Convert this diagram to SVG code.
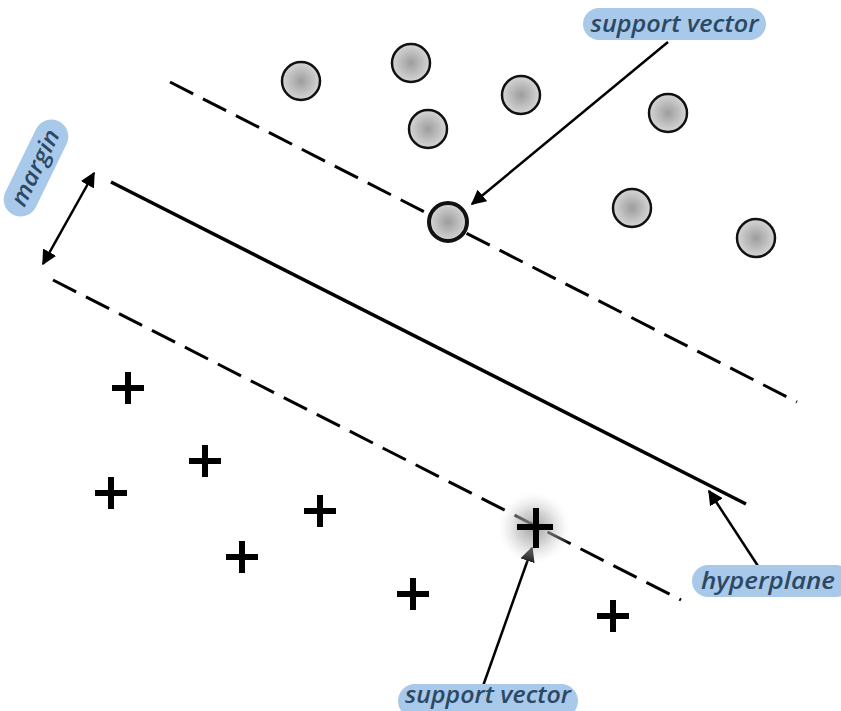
<svg xmlns="http://www.w3.org/2000/svg" width="841" height="711" viewBox="0 0 841 711">
<style>
.line{stroke:#000;stroke-width:3.5;fill:none;stroke-linecap:butt}
.dash{stroke:#000;stroke-width:3;fill:none;stroke-dasharray:26 11}
.pt{fill:url(#g);stroke:#111;stroke-width:2.5}
.plus{stroke:#000;stroke-width:6;fill:none}
.arr{stroke:#000;stroke-width:2.5;fill:none}
.pill{fill:#a9c9ea}
.lbl{font-family:"Open Sans","Liberation Sans",sans-serif;font-style:italic;font-weight:600;font-size:23px;fill:#2c4863}
</style>
<defs>
<radialGradient id="g" cx="0.5" cy="0.5" r="0.5">
<stop offset="0" stop-color="#9d9d9d"/>
<stop offset="1" stop-color="#d6d6d6"/>
</radialGradient>
<radialGradient id="glow" cx="0.5" cy="0.5" r="0.5">
<stop offset="0" stop-color="#8a8a8a" stop-opacity="0.8"/>
<stop offset="0.45" stop-color="#b0b0b0" stop-opacity="0.55"/>
<stop offset="0.75" stop-color="#d8d8d8" stop-opacity="0.3"/>
<stop offset="1" stop-color="#ffffff" stop-opacity="0"/>
</radialGradient>
<marker id="ah" viewBox="0 0 10 10" refX="9" refY="5" markerWidth="6" markerHeight="6" orient="auto-start-reverse" markerUnits="strokeWidth">
<path d="M0,0 L10,5 L0,10 z" fill="#000"/>
</marker>
</defs>
<g id="connectors">
<line class="dash" x1="170" y1="82" x2="797" y2="402"/>
<line class="line" x1="111" y1="182" x2="746" y2="504"/>
<line class="dash" x1="53" y1="280" x2="681" y2="600"/>
<line class="arr" x1="668" y1="42" x2="472" y2="204" marker-end="url(#ah)"/>
<line class="arr" x1="758" y1="566" x2="709" y2="491" marker-end="url(#ah)"/>
<line class="arr" x1="483" y1="686" x2="532" y2="548" marker-end="url(#ah)"/>
<line class="arr" x1="43" y1="264" x2="94" y2="173" marker-start="url(#ah)" marker-end="url(#ah)"/>
</g>
<g id="circles">
<circle class="pt" cx="301" cy="81" r="19"/>
<circle class="pt" cx="411" cy="63" r="19"/>
<circle class="pt" cx="521" cy="95" r="19"/>
<circle class="pt" cx="668" cy="113" r="19"/>
<circle class="pt" cx="428" cy="129" r="19"/>
<circle class="pt" cx="632" cy="208" r="19"/>
<circle class="pt" cx="756" cy="238" r="19"/>
</g>
<g id="sv-circle">
<circle class="pt" cx="448" cy="222" r="19" style="stroke-width:4"/>
</g>
<g id="pluses">
<path class="plus" d="M112,388h32M128,372v32"/>
<path class="plus" d="M189,461h32M205,445v32"/>
<path class="plus" d="M95,493h32M111,477v32"/>
<path class="plus" d="M304,511h32M320,495v32"/>
<path class="plus" d="M226,557h32M242,541v32"/>
<path class="plus" d="M397,594h32M413,578v32"/>
<path class="plus" d="M597,616h32M613,600v32"/>
</g>
<g id="sv-plus">
<circle cx="534" cy="528" r="38" fill="url(#glow)"/>
<path class="plus" d="M517,527h36M536,508v40"/>
</g>
<g id="label-top">
<rect class="pill" x="583" y="8" width="183" height="32" rx="16"/>
<text class="lbl" x="674.5" y="32" text-anchor="middle" textLength="168" lengthAdjust="spacingAndGlyphs">support vector</text>
</g>
<g id="label-bottom">
<rect class="pill" x="398" y="684" width="180" height="34" rx="17"/>
<text class="lbl" x="488" y="703" text-anchor="middle" textLength="166" lengthAdjust="spacingAndGlyphs">support vector</text>
</g>
<g id="label-hyperplane">
<rect class="pill" x="692" y="565" width="160" height="32" rx="16"/>
<text class="lbl" x="768" y="589" text-anchor="middle" textLength="134" lengthAdjust="spacingAndGlyphs">hyperplane</text>
</g>
<g id="label-margin" transform="translate(36,168) rotate(-64)">
<rect class="pill" x="-52" y="-17" width="104" height="34" rx="17"/>
<text class="lbl" x="0" y="7" text-anchor="middle" textLength="82" lengthAdjust="spacingAndGlyphs">margin</text>
</g>
</svg>
